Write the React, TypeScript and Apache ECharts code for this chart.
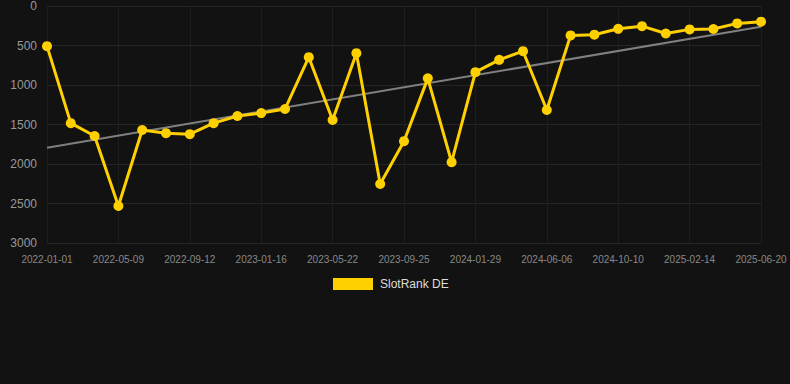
import React, { useEffect, useRef } from "react";
import * as echarts from "echarts";

const dates = [
  "2022-01-01", "2022-02-14", "2022-03-28", "2022-05-09", "2022-06-20", "2022-08-01",
  "2022-09-12", "2022-10-24", "2022-12-05", "2023-01-16", "2023-02-27", "2023-04-10",
  "2023-05-22", "2023-07-03", "2023-08-14", "2023-09-25", "2023-11-06", "2023-12-18",
  "2024-01-29", "2024-03-12", "2024-04-24", "2024-06-06", "2024-07-18", "2024-08-29",
  "2024-10-10", "2024-11-21", "2025-01-02", "2025-02-14", "2025-03-28", "2025-05-09",
  "2025-06-20",
];

const rankValues = [
  508, 1483, 1646, 2532, 1570, 1610, 1622, 1483, 1392, 1356, 1304, 648,
  1443, 597, 2253, 1711, 916, 1977, 838, 681, 572, 1316, 372, 363,
  289, 255, 348, 296, 291, 220, 198,
];

const trendEnds = [1795, 262];

const yTicks = { min: 0, max: 3000, interval: 500 };

export default function App() {
  const ref = useRef<HTMLDivElement>(null);
  useEffect(() => {
    document.body.style.margin = "0";
    document.body.style.background = "#121212";
    if (!ref.current) return;
    const chart = echarts.init(ref.current, null, { renderer: "svg" });
    chart.setOption({
      animation: false,
      backgroundColor: "#121212",
      grid: { left: 47, right: 29, top: 6, height: 237 },
      legend: {
        data: [{ name: "SlotRank DE", icon: "rect" }],
        top: 273,
        left: 328,
        itemWidth: 40,
        itemHeight: 12,
        itemGap: 10,
        textStyle: {
          color: "#dddddd",
          fontSize: 12,
          padding: [0, 0, 0, 2],
          fontFamily: "Arial, Liberation Sans, sans-serif",
        },
      },
      xAxis: {
        type: "category",
        data: dates,
        boundaryGap: false,
        axisLine: { show: false },
        axisTick: { show: false },
        axisLabel: {
          interval: 2,
          color: "#888888",
          fontSize: 10,
          margin: 11,
          fontFamily: "Arial, Liberation Sans, sans-serif",
        },
        splitLine: { show: true, interval: 2, lineStyle: { color: "#1e1e1e", width: 1 } },
      },
      yAxis: {
        type: "value",
        inverse: true,
        min: yTicks.min,
        max: yTicks.max,
        interval: yTicks.interval,
        axisLine: { show: false },
        axisTick: { show: false },
        axisLabel: {
          color: "#999999",
          fontSize: 12,
          margin: 10,
          formatter: (v: number) => String(v),
          fontFamily: "Arial, Liberation Sans, sans-serif",
        },
        splitLine: { show: true, lineStyle: { color: "#252525", width: 1 } },
      },
      series: [
        {
          name: "Trend",
          type: "line",
          data: [
            [dates[0], trendEnds[0]],
            [dates[dates.length - 1], trendEnds[1]],
          ],
          symbol: "none",
          lineStyle: { color: "#808080", width: 2 },
          silent: true,
          z: 1,
        },
        {
          name: "SlotRank DE",
          type: "line",
          data: rankValues,
          symbol: "circle",
          symbolSize: 10,
          itemStyle: { color: "#FFD000" },
          lineStyle: { color: "#FFD000", width: 3 },
          z: 2,
        },
      ],
    });
    return () => chart.dispose();
  }, []);
  return <div ref={ref} style={{ width: 790, height: 384 }} />;
}
